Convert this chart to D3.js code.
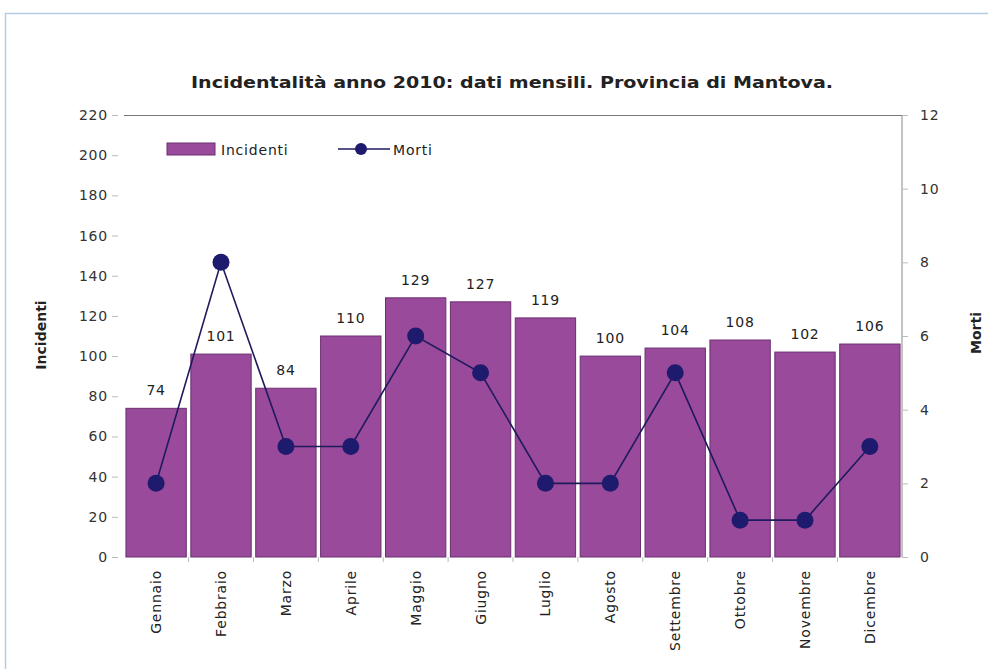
<!DOCTYPE html>
<html>
<head>
<meta charset="utf-8">
<script src="https://cdn.jsdelivr.net/npm/d3@7"></script>
<style>
  html, body { margin: 0; padding: 0; background: #fff; }
  svg text { font-family: "DejaVu Sans", "Liberation Sans", Arial, sans-serif; fill: #222; }
</style>
</head>
<body>
<svg id="chart" width="988" height="669"></svg>
<script>
// Monthly road accidents and deaths, Provincia di Mantova, 2010
const months = ["Gennaio", "Febbraio", "Marzo", "Aprile", "Maggio", "Giugno",
                "Luglio", "Agosto", "Settembre", "Ottobre", "Novembre", "Dicembre"];
const incidenti = [74, 101, 84, 110, 129, 127, 119, 100, 104, 108, 102, 106];
const morti = [2, 8, 3, 3, 6, 5, 2, 2, 5, 1, 1, 3];
const leftTicks = [0, 20, 40, 60, 80, 100, 120, 140, 160, 180, 200, 220];
const rightTicks = [0, 2, 4, 6, 8, 10, 12];

const svg = d3.select("#chart");
const margin = { left: 124, right: 86, top: 115, bottom: 112 };
const W = 988, H = 669;
const x0 = margin.left, x1 = W - margin.right;
const y0 = H - margin.bottom, y1 = margin.top;
const FS = 14, LS = 0.8;

// frame
svg.append("rect")
  .attr("x", 5.5).attr("y", 13.5)
  .attr("width", 1000).attr("height", 700)
  .attr("fill", "none").attr("stroke", "#b4cde2").attr("stroke-width", 1.5);

const x = d3.scaleBand().domain(months).range([x0, x1]).paddingInner(0.07).paddingOuter(0.03);
const yL = d3.scaleLinear().domain([0, 220]).range([y0, y1]);
const yR = d3.scaleLinear().domain([0, 12]).range([y0, y1]);

// title
svg.append("text")
  .attr("x", 512).attr("y", 88)
  .attr("text-anchor", "middle")
  .attr("font-size", 16).attr("font-weight", "bold")
  .attr("textLength", 642).attr("lengthAdjust", "spacingAndGlyphs")
  .text("Incidentalità anno 2010: dati mensili. Provincia di Mantova.");

// top border of plot area
svg.append("line")
  .attr("x1", x0).attr("x2", x1).attr("y1", y1 + 0.5).attr("y2", y1 + 0.5)
  .attr("stroke", "#777").attr("stroke-width", 1);

// left axis
const axL = svg.append("g").attr("transform", `translate(${x0 - 6},0)`)
  .call(d3.axisLeft(yL).tickValues(leftTicks).tickSize(6).tickPadding(4));
axL.select(".domain").remove();
axL.selectAll("line").attr("stroke", "#bbb");
axL.selectAll("text").attr("font-size", FS).attr("letter-spacing", LS).style("fill", "#333");

// right axis
const axR = svg.append("g").attr("transform", `translate(${x1},0)`)
  .call(d3.axisRight(yR).tickValues(rightTicks).tickSize(6).tickPadding(12));
axR.select(".domain").attr("stroke", "#888").attr("d", `M0,${y1}V${y0}`);
axR.selectAll("line").attr("stroke", "#bbb");
axR.selectAll("text").attr("font-size", FS).attr("letter-spacing", LS).style("fill", "#333");

// bars
svg.append("g").selectAll("rect").data(months).join("rect")
  .attr("x", d => x(d))
  .attr("y", (d, i) => yL(incidenti[i]))
  .attr("width", x.bandwidth())
  .attr("height", (d, i) => y0 - yL(incidenti[i]))
  .attr("fill", "#9a4a9a")
  .attr("stroke", "#6a2f70").attr("stroke-width", 1);

// value labels
svg.append("g").selectAll("text").data(months).join("text")
  .attr("x", d => x(d) + x.bandwidth() / 2)
  .attr("y", (d, i) => yL(incidenti[i]) - 13)
  .attr("text-anchor", "middle")
  .attr("font-size", FS).attr("letter-spacing", LS)
  .text((d, i) => incidenti[i]);

// x axis labels (rotated)
svg.append("g").selectAll("text").data(months).join("text")
  .attr("transform", d => `translate(${x(d) + x.bandwidth() / 2 + 5},${y0 + 13}) rotate(-90)`)
  .attr("text-anchor", "end")
  .attr("font-size", FS).attr("letter-spacing", LS)
  .text(d => d);

// small ticks between categories below the axis
svg.append("g").selectAll("line").data(months.slice(1)).join("line")
  .attr("x1", d => x(d) - x.step() * x.paddingInner() / 2)
  .attr("x2", d => x(d) - x.step() * x.paddingInner() / 2)
  .attr("y1", y0).attr("y2", y0 + 5)
  .attr("stroke", "#bbb");

// deaths line
const line = d3.line()
  .x((d, i) => x(months[i]) + x.bandwidth() / 2)
  .y(d => yR(d));
svg.append("path").datum(morti)
  .attr("d", line)
  .attr("fill", "none").attr("stroke", "#1e1a5e").attr("stroke-width", 1.6);
svg.append("g").selectAll("circle").data(morti).join("circle")
  .attr("cx", (d, i) => x(months[i]) + x.bandwidth() / 2)
  .attr("cy", d => yR(d))
  .attr("r", 8.5)
  .attr("fill", "#1e1a6e");

// axis titles
svg.append("text")
  .attr("transform", `translate(46,335) rotate(-90)`)
  .attr("text-anchor", "middle").attr("font-size", FS).attr("font-weight", "bold")
  .text("Incidenti");
svg.append("text")
  .attr("transform", `translate(981,333) rotate(-90)`)
  .attr("text-anchor", "middle").attr("font-size", FS).attr("font-weight", "bold")
  .text("Morti");

// legend
const lg = svg.append("g");
lg.append("rect").attr("x", 167).attr("y", 143).attr("width", 48).attr("height", 12)
  .attr("fill", "#9a4a9a").attr("stroke", "#6a2f70");
lg.append("text").attr("x", 221).attr("y", 155).attr("font-size", FS).attr("letter-spacing", LS).text("Incidenti");
lg.append("line").attr("x1", 338).attr("x2", 390).attr("y1", 149).attr("y2", 149)
  .attr("stroke", "#1e1a5e").attr("stroke-width", 1.6);
lg.append("circle").attr("cx", 361).attr("cy", 149).attr("r", 6).attr("fill", "#1e1a6e");
lg.append("text").attr("x", 393).attr("y", 155).attr("font-size", FS).attr("letter-spacing", LS).text("Morti");
</script>
</body>
</html>
